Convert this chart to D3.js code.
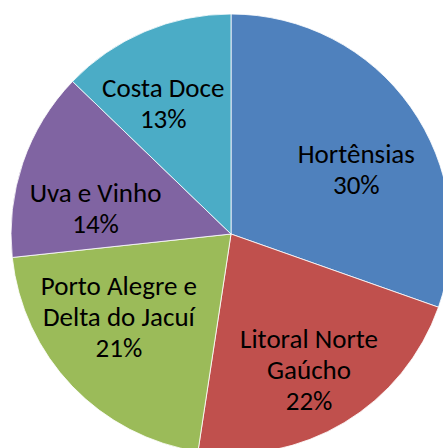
<!DOCTYPE html>
<html>
<head>
<meta charset="utf-8">
<script src="https://cdn.jsdelivr.net/npm/d3@7"></script>
<style>
  html, body { margin: 0; padding: 0; background: #fff; }
  svg { display: block; }
</style>
</head>
<body>
<svg id="chart" width="443" height="448"></svg>
<script>
// regions and their shares (%), clockwise from 12 o'clock
var regions = ['Hortênsias', 'Litoral Norte Gaúcho', 'Porto Alegre e Delta do Jacuí', 'Uva e Vinho', 'Costa Doce'];
var shares = [30.4, 22.0, 20.9, 13.9, 12.8];
// how each label is broken into lines
var labelLines = [
    ['Hortênsias'],
    ['Litoral Norte', 'Gaúcho'],
    ['Porto Alegre e', 'Delta do Jacuí'],
    ['Uva e Vinho'],
    ['Costa Doce']
];
var colours = ['#4F81BD', '#C0504D', '#9BBB59', '#8064A2', '#4BACC6'];

var width = 443, height = 448;
var cx = 231, cy = 234, radius = 220;
var fontSize = 27, lineHeight = 31;
// Excel "best fit" shifts labels off the plain centroid a bit
var labelNudge = [[11, 25], [6, 25], [-11, -5], [-3, 29], [-13, 7]];

var svg = d3.select('#chart');
var g = svg.append('g').attr('transform', 'translate(' + cx + ',' + cy + ')');

var pie = d3.pie().sort(null).value(function (d) { return d.value; });
var arcs = pie(regions.map(function (r, i) { return { name: r, value: shares[i], i: i }; }));

var arc = d3.arc().innerRadius(0).outerRadius(radius);
var labelArc = d3.arc().innerRadius(140).outerRadius(140);

g.selectAll('path.slice')
    .data(arcs)
    .enter()
    .append('path')
    .attr('class', 'slice')
    .attr('d', arc)
    .attr('fill', function (d) { return colours[d.data.i]; })
    .attr('stroke', '#fff')
    .attr('stroke-width', 0.8);

var labels = g.selectAll('text.label')
    .data(arcs)
    .enter()
    .append('text')
    .attr('class', 'label')
    .attr('text-anchor', 'middle')
    .attr('font-family', 'Carlito, Calibri, "Liberation Sans Narrow", "Open Sans", sans-serif')
    .attr('font-size', fontSize)
    .attr('fill', '#000')
    .attr('transform', function (d) {
        var c = labelArc.centroid(d);
        var n = labelNudge[d.data.i];
        return 'translate(' + (c[0] + n[0]) + ',' + (c[1] + n[1]) + ')';
    });

labels.each(function (d) {
    var lines = labelLines[d.data.i].concat([Math.round(d.data.value) + '%']);
    var y0 = -(lines.length - 1) * lineHeight / 2;
    var t = d3.select(this);
    lines.forEach(function (l, k) {
        t.append('tspan').attr('x', 0).attr('y', y0 + k * lineHeight).text(l);
    });
});
</script>
</body>
</html>
